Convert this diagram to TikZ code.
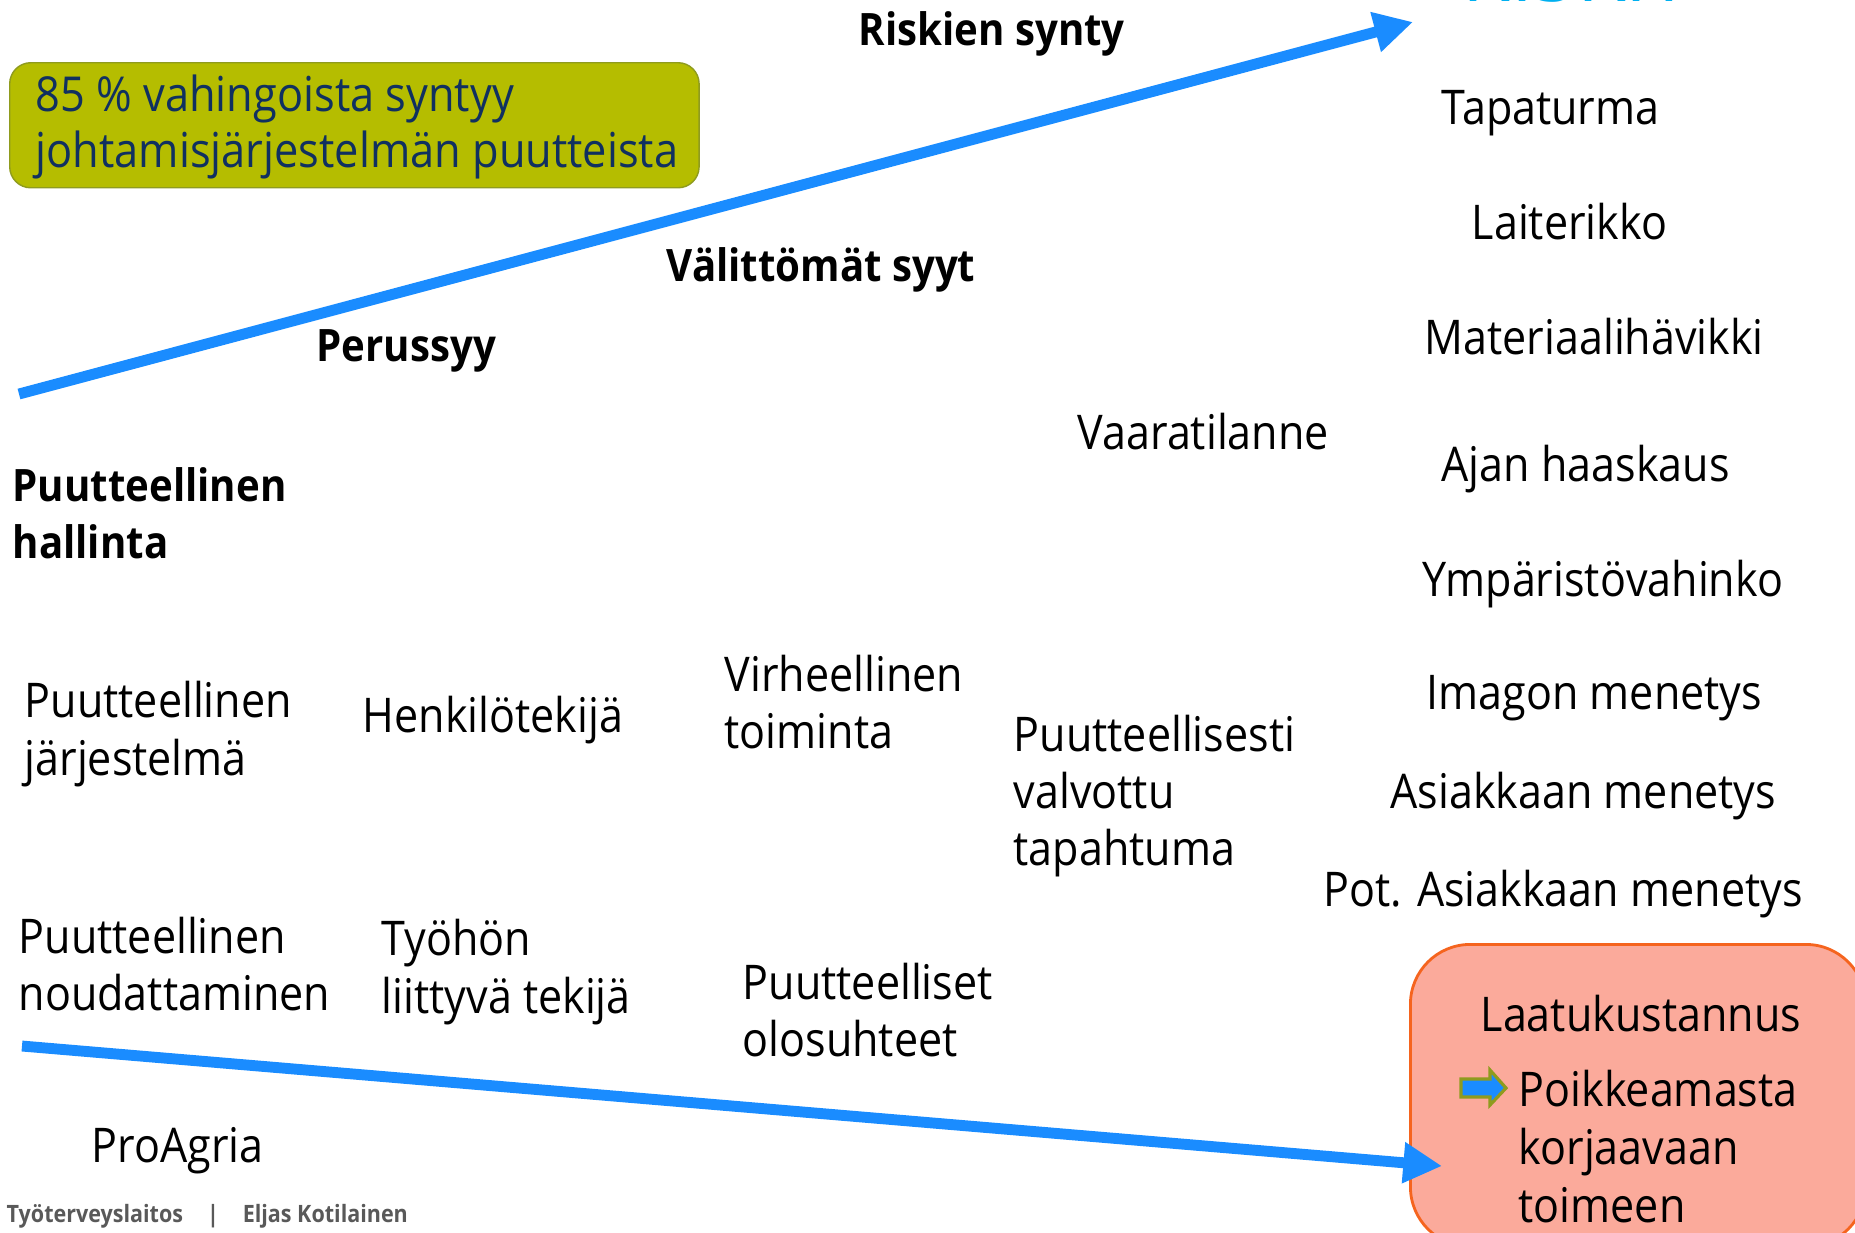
\documentclass[tikz,border=0pt]{standalone}
\usepackage{fontspec}
\setmainfont{Open Sans}[FakeStretch=0.9]
\usepackage{tikz}
\usetikzlibrary{arrows.meta}

\definecolor{arrowblue}{RGB}{26,140,255}
\definecolor{boxgreen}{RGB}{181,189,0}
\definecolor{boxgreenline}{RGB}{143,155,30}
\definecolor{boxnavy}{RGB}{16,48,96}
\definecolor{boxsalmon}{RGB}{251,170,155}
\definecolor{boxorange}{RGB}{245,100,30}
\definecolor{titlecyan}{RGB}{0,176,240}
\definecolor{footgray}{RGB}{89,89,89}

\begin{document}
\begin{tikzpicture}[x=0.01cm, y=-0.01cm,
  lbl/.style={anchor=west, inner sep=0pt, align=left, font=\fontsize{13.6}{16.3}\selectfont},
  head/.style={lbl, font=\fontsize{12.7}{16.3}\selectfont\bfseries},
  bigarrow/.style={arrowblue, line width=3.1pt, -{Triangle[length=11pt, width=11pt]}}]
\useasboundingbox (0, 0) rectangle (1855, 1232);

\node[anchor=base west, inner sep=0pt, text=titlecyan, font=\fontsize{25}{30}\selectfont] (riskit) at (1462, 1) {RISKIT};

\node[head] (synty) at (858, 34) {Riskien synty};
\node[head] (valit) at (666, 270) {Välittömät syyt};
\node[head] (peruss) at (316, 351) {Perussyy};
\node[head] (hallinta) at (12, 513) {Puutteellinen\\hallinta};

\node[draw=boxgreenline, fill=boxgreen, rounded corners=6pt, anchor=north west,
  minimum width=6.89cm, minimum height=1.25cm] (vahingotbox) at (9, 62) {};
\node[lbl, text=boxnavy, font=\fontsize{13.7}{16}\selectfont] (vahingot) at (35, 127)
  {85 \% vahingoista syntyy\\johtamisjärjestelmän puutteista};

% seuraukset
\node[lbl] (tapat) at (1441, 113) {Tapaturma};
\node[lbl] (laite) at (1471, 222) {Laiterikko};
\node[lbl] (mater) at (1424, 337) {Materiaalihävikki};
\node[lbl] (ajan) at (1441, 469) {Ajan haaskaus};
\node[lbl] (ymp) at (1422, 584) {Ympäristövahinko};
\node[lbl] (imago) at (1426, 698) {Imagon menetys};
\node[lbl] (asiak) at (1390, 796) {Asiakkaan menetys};
\node[lbl] (potas) at (1323, 894) {Pot. Asiakkaan menetys};

\node[lbl] (vaara) at (1077, 432) {Vaaratilanne};
\node[lbl] (jarj) at (24, 734) {Puutteellinen\\järjestelmä};
\node[lbl] (henk) at (362, 720) {Henkilötekijä};
\node[lbl] (virhe) at (724, 702) {Virheellinen\\toiminta};
\node[lbl] (valv) at (1013, 796) {Puutteellisesti\\valvottu\\tapahtuma};
\node[lbl] (noud) at (18, 964) {Puutteellinen\\noudattaminen};
\node[lbl] (tyoh) at (381, 972) {Työhön\\liittyvä tekijä};
\node[lbl] (olos) at (742, 1010) {Puutteelliset\\olosuhteet};
\node[lbl] (proag) at (91, 1151) {ProAgria};

\node[anchor=west, inner sep=0pt, text=footgray, font=\fontsize{6.8}{9}\selectfont\bfseries] (footer)
  at (6, 1216) {Työterveyslaitos\quad|\quad Eljas Kotilainen};

% laatukustannus
\node[draw=boxorange, fill=boxsalmon, rounded corners=17pt, line width=0.8pt, anchor=north west,
  minimum width=4.55cm, minimum height=3.02cm] (laatubox) at (1409, 943) {};
\node[lbl] (laatu) at (1480, 1014) {Laatukustannus};
\filldraw[fill=arrowblue, draw=boxgreenline, line width=0.9pt] (1461, 1079) -- (1490, 1079)
  -- (1490, 1070) -- (1506, 1088) -- (1490, 1105) -- (1490, 1097) -- (1461, 1097) -- cycle;
\node[lbl, font=\fontsize{13.6}{16.5}\selectfont] (poikk) at (1518, 1147) {Poikkeamasta\\korjaavaan\\toimeen};

\coordinate (ylaalku) at (19, 394);
\coordinate (ylaloppu) at (1413, 22);
\coordinate (alaalku) at (22, 1046);
\coordinate (alaloppu) at (1442, 1166);
\draw[bigarrow] (ylaalku) -- (ylaloppu);
\draw[bigarrow] (alaalku) -- (alaloppu);
\end{tikzpicture}
\end{document}
